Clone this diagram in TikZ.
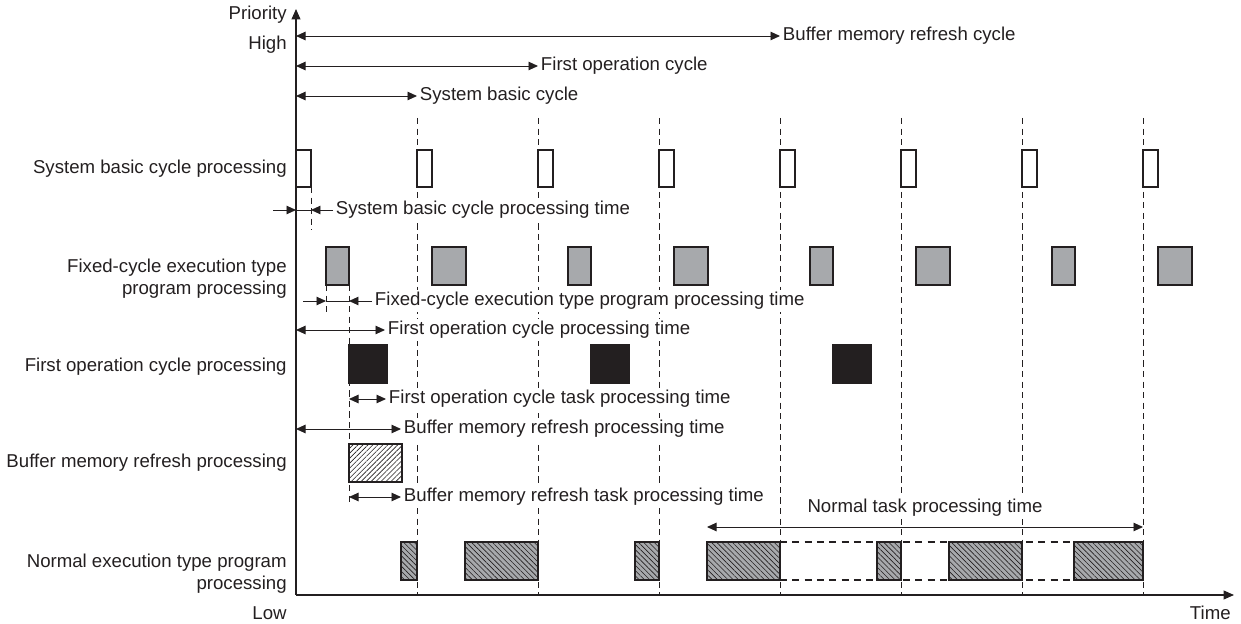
\documentclass[tikz,border=0pt]{standalone}
\usepackage{fontspec}
\setmainfont{Liberation Sans}
\usetikzlibrary{arrows.meta,patterns.meta}
\definecolor{ink}{RGB}{35,31,32}
\definecolor{slate}{RGB}{167,169,172}
\tikzset{
  >={Triangle[length=1.9mm,width=1.7mm]},
  txt/.style={font=\fontsize{10.6}{12.5}\selectfont,text=ink,inner sep=1.5pt},
  rowlbl/.style={txt,anchor=east,align=right,inner sep=0pt},
  note/.style={txt,anchor=west,fill=white},
  dim/.style={<->,draw=ink,line width=0.55pt},
  half/.style={->,draw=ink,line width=0.55pt},
  thinl/.style={draw=ink,line width=0.55pt},
  axis/.style={draw=ink,line width=0.7pt,-{Triangle[length=2.1mm,width=1.8mm]}},
  grid/.style={draw=ink,line width=0.5pt,dash pattern=on 3.5pt off 2.5pt},
  gapline/.style={draw=ink,line width=0.6pt,dash pattern=on 4pt off 3pt},
  blk/.style={draw=ink,line width=0.9pt,outer sep=0pt,inner sep=0pt,
    anchor=north west,minimum height=7.6mm},
  sysbox/.style={blk,fill=white,minimum width=3mm,minimum height=7.4mm},
  fixbox/.style={blk,fill=slate,minimum width=#1},
  opbox/.style={blk,fill=ink,minimum width=7.6mm},
  bufbox/.style={blk,minimum width=10.6mm,preaction={fill=white},
    pattern={Lines[angle=45,distance=2pt,line width=0.35pt]},pattern color=ink},
  normbox/.style={blk,minimum width=#1,preaction={fill=slate},
    pattern={Lines[angle=-45,distance=2.1pt,line width=0.35pt]},pattern color=ink},
}
\begin{document}
\begin{tikzpicture}[x=0.02cm,y=-0.02cm]
\useasboundingbox (0,0) rectangle (1241,624);
% cycle marks
\foreach \k in {1,...,7}
  \draw[grid] ({296+121*\k},118) -- ({296+121*\k},595);
% axes
\coordinate (O) at (296,595);
\draw[axis] (O) -- (296,9);
\draw[axis] (O) -- (1234,595);
\node[rowlbl] (prio) at (287,15) {Priority};
\node[rowlbl] (high) at (287,45) {High};
\node[rowlbl] (low) at (287,613) {Low};
\node[rowlbl] (time) at (1231,613) {Time};
% row labels
\node[rowlbl] (lsys) at (287,169) {System basic cycle processing};
\node[rowlbl] (lfix) at (287,279) {Fixed-cycle execution type\\program processing};
\node[rowlbl] (lop) at (287,367) {First operation cycle processing};
\node[rowlbl] (lbuf) at (287,463) {Buffer memory refresh processing};
\node[rowlbl] (lnorm) at (287,574) {Normal execution type program\\processing};
% processing blocks
\foreach \k in {0,...,7}
  \node[sysbox] (sys\k) at ({296+121*\k},150) {};
\foreach \k in {0,2,4,6}
  \node[fixbox=4.6mm] (fix\k) at ({326+121*\k},247) {};
\foreach \k in {1,3,5,7}
  \node[fixbox=6.8mm] (fix\k) at ({311+121*\k},247) {};
\foreach \k in {0,2,4}
  \node[opbox] (op\k) at ({349+121*\k},345) {};
\node[bufbox] (buf) at (349,444) {};
\draw[gapline] (780,542) -- (1074,542) (780,580) -- (1074,580);
\foreach \x/\w [count=\i] in {401/3.2mm,465/14.6mm,635/4.8mm,707/14.6mm,877/4.8mm,949/14.6mm,1074/13.8mm}
  \node[normbox=\w] (norm\i) at (\x,542) {};
% cycles
\node[note] (tbuf) at (780,36) {Buffer memory refresh cycle};
\draw[dim] (O |- tbuf) -- (tbuf);
\node[note] (tfirst) at (538,66) {First operation cycle};
\draw[dim] (O |- tfirst) -- (tfirst);
\node[note] (tsys) at (417,96) {System basic cycle};
\draw[dim] (O |- tsys) -- (tsys);
% processing times
\node[note] (tsyst) at (333,210) {System basic cycle processing time};
\coordinate (sysl) at (273,210);
\draw[half] (sysl) -- (O |- tsyst);
\draw[thinl] (O |- tsyst) -- (sys0.east |- tsyst);
\draw[half] (tsyst) -- (sys0.east |- tsyst);
\draw[grid] (sys0.south east) -- ++(0,43);
\node[note] (tfixt) at (372,301) {Fixed-cycle execution type program processing time};
\coordinate (fixl) at (303,301);
\draw[half] (fixl) -- (fix0.west |- tfixt);
\draw[thinl] (fix0.west |- tfixt) -- (fix0.east |- tfixt);
\draw[half] (tfixt) -- (fix0.east |- tfixt);
\draw[grid] (fix0.south west) -- ++(0,30);
\draw[grid] (fix0.south east) -- ++(0,218);
\node[note] (topt) at (385,330) {First operation cycle processing time};
\draw[dim] (O |- topt) -- (topt);
\node[note] (topk) at (386,399) {First operation cycle task processing time};
\draw[dim] (op0.west |- topk) -- (topk);
\node[note] (tbufp) at (401,429) {Buffer memory refresh processing time};
\draw[dim] (O |- tbufp) -- (tbufp);
\node[note] (tbufk) at (401,497) {Buffer memory refresh task processing time};
\draw[dim] (buf.west |- tbufk) -- (tbufk);
\node[txt,fill=white] (tnorm) at (925,508) {Normal task processing time};
\draw[dim] ([yshift=3mm]norm4.north west) -- ([yshift=3mm]norm7.north east);
\end{tikzpicture}
\end{document}
